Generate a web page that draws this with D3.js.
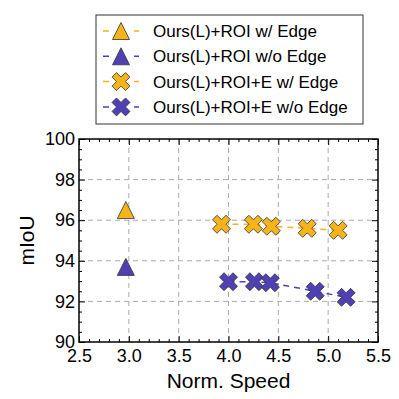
<!DOCTYPE html>
<html>
<head>
<meta charset="utf-8">
<script src="https://cdn.jsdelivr.net/npm/d3@7"></script>
<style>
  body { margin: 0; background: #fff; }
  svg { font-family: "Liberation Sans", Arial, sans-serif; }
</style>
</head>
<body>
<div id="chart"></div>
<script>
// data
const seriesNames = ["Ours(L)+ROI w/ Edge", "Ours(L)+ROI w/o Edge", "Ours(L)+ROI+E w/ Edge", "Ours(L)+ROI+E w/o Edge"];
const roiEdgeX = [2.97];
const roiEdgeY = [96.5];
const roiNoEdgeX = [2.97];
const roiNoEdgeY = [93.7];
const roiEEdgeX = [3.93, 4.25, 4.43, 4.79, 5.10];
const roiEEdgeY = [95.8, 95.8, 95.7, 95.6, 95.5];
const roiENoEdgeX = [4.00, 4.26, 4.42, 4.87, 5.18];
const roiENoEdgeY = [92.97, 92.97, 92.92, 92.5, 92.2];
const xTicks = [2.5, 3.0, 3.5, 4.0, 4.5, 5.0, 5.5];
const yTicks = [90, 92, 94, 96, 98, 100];

const width = 399, height = 399,
  margin = {top: 139, right: 21, bottom: 57, left: 79};

const yellow = "#f4b41a", blue = "#4f41b3", edge = "#333";

const series = [
  {name: seriesNames[0], xs: roiEdgeX, ys: roiEdgeY, color: yellow, shape: "tri"},
  {name: seriesNames[1], xs: roiNoEdgeX, ys: roiNoEdgeY, color: blue, shape: "tri"},
  {name: seriesNames[2], xs: roiEEdgeX, ys: roiEEdgeY, color: yellow, shape: "x"},
  {name: seriesNames[3], xs: roiENoEdgeX, ys: roiENoEdgeY, color: blue, shape: "x"}
];

const svg = d3.select("#chart").append("svg")
  .attr("width", width).attr("height", height);

const xScale = d3.scaleLinear().domain([2.5, 5.5]).range([margin.left, width - margin.right]);
const yScale = d3.scaleLinear().domain([90, 100]).range([height - margin.bottom, margin.top]);

const x0 = margin.left, x1 = width - margin.right, y0 = margin.top, y1 = height - margin.bottom;

// grid
svg.append("g").selectAll("line").data(xTicks.slice(1, -1)).enter().append("line")
  .attr("x1", d => xScale(d)).attr("x2", d => xScale(d))
  .attr("y1", y0).attr("y2", y1)
  .attr("stroke", "#aaa").attr("stroke-dasharray", "5,4");
svg.append("g").selectAll("line").data(yTicks.slice(1, -1)).enter().append("line")
  .attr("y1", d => yScale(d)).attr("y2", d => yScale(d))
  .attr("x1", x0).attr("x2", x1)
  .attr("stroke", "#aaa").attr("stroke-dasharray", "5,4");

// minor ticks
const xMinor = d3.range(25, 56).map(v => v / 10).filter(v => !xTicks.some(t => Math.abs(t - v) < 1e-6));
const yMinor = d3.range(180, 201).map(v => v / 2).filter(v => v % 2 !== 0);

function tickAxis(axis, ticks, size) {
  return axis.tickValues(ticks).tickSizeInner(size).tickSizeOuter(0).tickFormat("");
}

// bottom
svg.append("g").attr("transform", `translate(0,${y1})`)
  .call(tickAxis(d3.axisBottom(xScale), xMinor, -3));
const xAx = svg.append("g").attr("transform", `translate(0,${y1})`)
  .call(tickAxis(d3.axisBottom(xScale), xTicks, -6));
xAx.selectAll("text").attr("y", 7).attr("dy", "0.71em").style("font-size", "18px").attr("fill", "#000")
  .text(d => d3.format(".1f")(d));
// top
svg.append("g").attr("transform", `translate(0,${y0})`)
  .call(tickAxis(d3.axisTop(xScale), xMinor, -3));
svg.append("g").attr("transform", `translate(0,${y0})`)
  .call(tickAxis(d3.axisTop(xScale), xTicks, -6));
// left
svg.append("g").attr("transform", `translate(${x0},0)`)
  .call(tickAxis(d3.axisLeft(yScale), yMinor, -3));
const yAx = svg.append("g").attr("transform", `translate(${x0},0)`)
  .call(tickAxis(d3.axisLeft(yScale), yTicks, -6));
yAx.selectAll("text").attr("x", -4).style("font-size", "18px").attr("fill", "#000")
  .text(d => d3.format("d")(d));
// right
svg.append("g").attr("transform", `translate(${x1},0)`)
  .call(tickAxis(d3.axisRight(yScale), yMinor, -3));
svg.append("g").attr("transform", `translate(${x1},0)`)
  .call(tickAxis(d3.axisRight(yScale), yTicks, -6));

svg.selectAll(".domain").remove();
svg.selectAll(".tick line").attr("stroke", "#000");

// frame
svg.append("rect").attr("x", x0).attr("y", y0)
  .attr("width", x1 - x0).attr("height", y1 - y0)
  .attr("fill", "none").attr("stroke", "#000").attr("stroke-width", 1.5);

// axis labels
svg.append("text").attr("x", (x0 + x1) / 2).attr("y", 388)
  .attr("text-anchor", "middle").style("font-size", "21px").text("Norm. Speed");
svg.append("text").attr("transform", `translate(34,${(y0 + y1) / 2}) rotate(-90)`)
  .attr("text-anchor", "middle").style("font-size", "21px").text("mIoU");

// markers
function triPath(s) {
  const h = s / 2;
  return `M0,${-h}L${h},${h}L${-h},${h}Z`;
}
function xPath(s) {
  const k = s / 4;
  const pts = [[-1, -2], [0, -1], [1, -2], [2, -1], [1, 0], [2, 1], [1, 2], [0, 1], [-1, 2], [-2, 1], [-1, 0], [-2, -1]];
  return "M" + pts.map(p => `${p[0] * k},${p[1] * k}`).join("L") + "Z";
}
function markerPath(shape) {
  return shape === "tri" ? triPath(17) : xPath(18);
}

const line = d3.line().x(d => xScale(d[0])).y(d => yScale(d[1]));

series.forEach(s => {
  const pts = s.xs.map((x, i) => [x, s.ys[i]]);
  if (pts.length > 1) {
    svg.append("path").datum(pts).attr("d", line)
      .attr("fill", "none").attr("stroke", s.color)
      .attr("stroke-width", 1.5).attr("stroke-dasharray", "6,5");
  }
  svg.append("g").selectAll("path").data(pts).enter().append("path")
    .attr("transform", d => `translate(${xScale(d[0])},${yScale(d[1])})`)
    .attr("d", markerPath(s.shape))
    .attr("fill", s.color).attr("stroke", edge).attr("stroke-width", 0.8);
});

// legend
const leg = svg.append("g");
leg.append("rect").attr("x", 96).attr("y", 15).attr("width", 267).attr("height", 109)
  .attr("fill", "#fff").attr("stroke", "#333").attr("stroke-width", 1);
series.forEach((s, i) => {
  const cy = 31 + i * 25.3;
  leg.append("line").attr("x1", 103).attr("x2", 139).attr("y1", cy).attr("y2", cy)
    .attr("stroke", s.color).attr("stroke-width", 1.5).attr("stroke-dasharray", "6,25");
  leg.append("path").attr("transform", `translate(121,${cy})`)
    .attr("d", markerPath(s.shape))
    .attr("fill", s.color).attr("stroke", edge).attr("stroke-width", 0.8);
  leg.append("text").attr("x", 153).attr("y", cy).attr("dy", "0.36em")
    .style("font-size", "17px").text(s.name);
});
</script>
</body>
</html>
